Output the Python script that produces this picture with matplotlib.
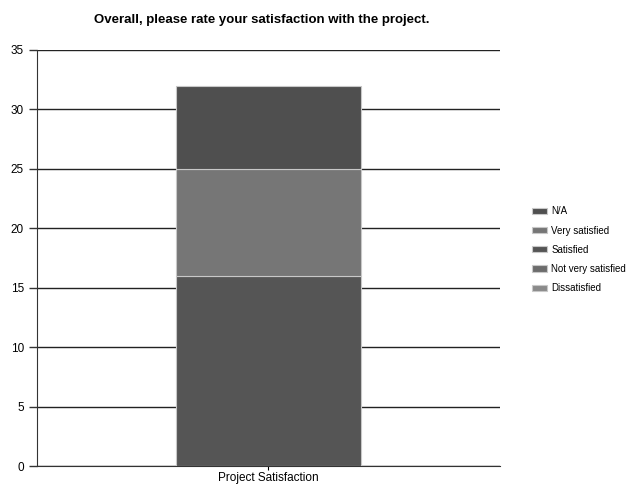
import matplotlib
matplotlib.use("Agg")
import matplotlib.pyplot as plt
import numpy as np

plt.rcParams['font.family'] = ['Liberation Sans', 'DejaVu Sans']

categories = ["Project Satisfaction"]
series = ["Dissatisfied", "Not very satisfied", "Satisfied", "Very satisfied", "N/A"]
values = [0, 0, 16, 9, 7]
colors = ["#8a8a8a", "#6c6c6c", "#555555", "#767676", "#4f4f4f"]
yticks = [0, 5, 10, 15, 20, 25, 30, 35]

fig = plt.figure(figsize=(6.27, 4.84), dpi=100)
ax = fig.add_axes([0.059, 0.037, 0.738, 0.860])

bottom = 0
handles = []
for name, v, c in zip(series, values, colors):
    b = ax.bar(0, v, width=0.4, bottom=bottom, color=c, edgecolor="#c8c8c8",
               linewidth=0.8, label=name, zorder=3)
    handles.append(b)
    bottom += v

ax.set_xlim(-0.5, 0.5)
ax.set_ylim(0, 35)
ax.set_yticks(yticks)
ax.set_xticks([0])
ax.set_xticklabels(categories, fontsize=8.5)
ax.tick_params(axis='y', labelsize=8.5, length=6, width=1, color="#333333")
ax.tick_params(axis='x', length=3, width=0.8, pad=1.5)
ax.grid(axis='y', color="#222222", linewidth=1, zorder=0)
for s in ["top", "right"]:
    ax.spines[s].set_visible(False)
ax.spines["left"].set_color("#333333")
ax.spines["bottom"].set_color("#333333")

fig.text(0.418, 0.958, "Overall, please rate your satisfaction with the project.",
         ha="center", va="center", fontsize=9.5, fontweight="bold")

leg = fig.legend(handles[::-1], series[::-1], loc="center left",
                 bbox_to_anchor=(0.848, 0.484), frameon=False, fontsize=7,
                 handlelength=1.6, handleheight=0.6, labelspacing=0.95,
                 handletextpad=0.4, borderaxespad=0, borderpad=0)

fig.savefig("out.png", dpi=100)
